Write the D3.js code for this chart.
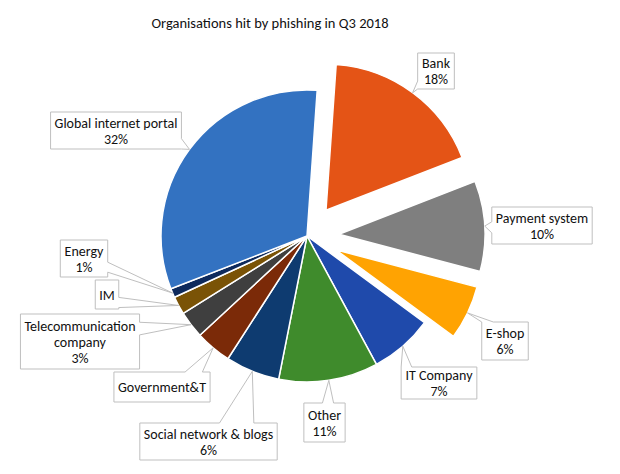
<!DOCTYPE html>
<html lang="en">
<head>
    <meta charset="UTF-8">
    <title>Organisations hit by phishing in Q3 2018</title>
    <script src="https://d3js.org/d3.v7.min.js"></script>
    <style>
        body { margin: 0; background: #fff; }
        text { font-family: Carlito, Lato, "Open Sans", sans-serif; fill: #111; }
    </style>
</head>
<body>
    <svg width="620" height="474"></svg>

    <script type="text/javascript">
        // Data, in chart order (clockwise from the top)
        const categories = ['Bank', 'Payment system', 'E-shop', 'IT Company', 'Other',
            'Social network & blogs', 'Government&T', 'Telecommunication company', 'IM',
            'Energy', 'Global internet portal'];
        const shares = [18, 10, 6, 7, 11, 6, 4, 3, 2, 1, 32];
        const labelLines = [
            ['Bank', '18%'], ['Payment system', '10%'], ['E-shop', '6%'], ['IT Company', '7%'],
            ['Other', '11%'], ['Social network & blogs', '6%'], ['Government&T'],
            ['Telecommunication', 'company', '3%'], ['IM'], ['Energy', '1%'],
            ['Global internet portal', '32%']
        ];
        const explodedSlices = ['Bank', 'Payment system', 'E-shop'];
        const sliceColors = ['#E45416', '#7F7F7F', '#FFA302', '#1F4AAB', '#3F8B2C',
            '#0E3B70', '#7B2A08', '#3F3F3F', '#7A5306', '#0E2A5C', '#3372C1'];

        // Callout layout: box centre, box height, side the pointer leaves from
        const calloutLayout = [
            { cx: 436, cy: 71, h: 36, side: 'left', f: [0.78, 1] },
            { cx: 542, cy: 225.5, h: 37, side: 'left', f: [0.4, 0.7] },
            { cx: 505, cy: 341, h: 38, side: 'top', f: [0, 0.25] },
            { cx: 439, cy: 383, h: 32, side: 'top', f: [0, 0.14] },
            { cx: 324.5, cy: 422.5, h: 39, side: 'top', f: [0.45, 0.72] },
            { cx: 208.5, cy: 441.5, h: 37, side: 'top', f: [0.58, 0.83] },
            { cx: 162, cy: 387, h: 30, side: 'top', f: [0.74, 0.92] },
            { cx: 80, cy: 341.5, h: 55, side: 'right', f: [0.15, 0.38] },
            { cx: 107, cy: 294.5, h: 29, side: 'right', f: [0.6, 0.95] },
            { cx: 84, cy: 258.5, h: 37, side: 'right', f: [0.6, 0.87] },
            { cx: 116, cy: 130.5, h: 37, side: 'right', f: [0.72, 1] }
        ];

        const width = 620;
        const height = 474;
        const cx = 307, cy = 236;
        const radius = 146;
        const explodeOffset = 32;
        const startAngle = 4 * Math.PI / 180;

        const svg = d3.select('svg')
            .attr('width', width)
            .attr('height', height);

        const data = categories.map((c, i) => ({
            name: c, value: shares[i], color: sliceColors[i],
            lines: labelLines[i], layout: calloutLayout[i]
        }));

        const pie = d3.pie()
            .sort(null)
            .value(d => d.value)
            .startAngle(startAngle)
            .endAngle(startAngle + 2 * Math.PI);

        const arc = d3.arc().innerRadius(0).outerRadius(radius);
        const arcs = pie(data);

        const shift = a => {
            if (!explodedSlices.includes(a.data.name)) return [0, 0];
            const mid = (a.startAngle + a.endAngle) / 2;
            return [explodeOffset * Math.sin(mid), -explodeOffset * Math.cos(mid)];
        };

        // Slices
        svg.append('g')
            .attr('transform', `translate(${cx},${cy})`)
            .selectAll('path')
            .data(arcs)
            .join('path')
            .attr('transform', d => `translate(${shift(d)})`)
            .attr('d', arc)
            .attr('fill', d => d.data.color)
            .attr('stroke', '#fff')
            .attr('stroke-width', 1.5)
            .attr('stroke-linejoin', 'round');

        // Title
        svg.append('text')
            .attr('x', 270)
            .attr('y', 28)
            .attr('text-anchor', 'middle')
            .style('font-size', '14.5px')
            .text('Organisations hit by phishing in Q3 2018');

        // Callouts
        const lineH = 16;
        const callouts = svg.append('g');

        arcs.forEach(a => {
            const L = a.data.layout;
            const mid = (a.startAngle + a.endAngle) / 2;
            const [sx, sy] = shift(a);
            const anchor = [cx + sx + radius * Math.sin(mid), cy + sy - radius * Math.cos(mid)];

            const g = callouts.append('g');
            const shape = g.append('path');
            const n = a.data.lines.length;
            const txt = g.append('text')
                .attr('text-anchor', 'middle')
                .style('font-size', '14px');
            a.data.lines.forEach((line, i) => {
                txt.append('tspan')
                    .attr('x', L.cx)
                    .attr('y', L.cy + (i - (n - 1) / 2) * lineH + 5)
                    .text(line);
            });

            const w = txt.node().getBBox().width + 8;
            const x0 = L.cx - w / 2, x1 = L.cx + w / 2;
            const y0 = L.cy - L.h / 2, y1 = L.cy + L.h / 2;
            const [f1, f2] = L.f;
            const pts = [[x0, y0]];
            if (L.side === 'top') pts.push([x0 + f1 * w, y0], anchor, [x0 + f2 * w, y0]);
            pts.push([x1, y0]);
            if (L.side === 'right') pts.push([x1, y0 + f1 * L.h], anchor, [x1, y0 + f2 * L.h]);
            pts.push([x1, y1]);
            if (L.side === 'bottom') pts.push([x0 + f2 * w, y1], anchor, [x0 + f1 * w, y1]);
            pts.push([x0, y1]);
            if (L.side === 'left') pts.push([x0, y0 + f2 * L.h], anchor, [x0, y0 + f1 * L.h]);

            shape.attr('d', 'M' + pts.map(p => p.join(',')).join('L') + 'Z')
                .attr('fill', '#fff')
                .attr('stroke', '#BFBFBF')
                .attr('stroke-width', 1);
        });
    </script>
</body>
</html>
